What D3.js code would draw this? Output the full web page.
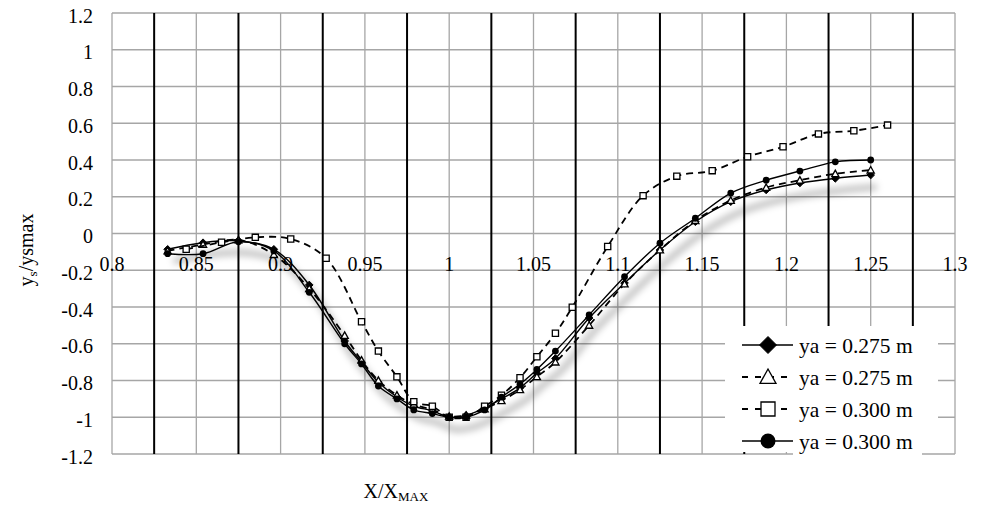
<!DOCTYPE html>
<html>
<head>
<meta charset="utf-8">
<script src="https://cdn.jsdelivr.net/npm/d3@7"></script>
<style>
  html, body { margin: 0; padding: 0; background: #fff; }
  svg { display: block; font-family: "Liberation Serif", "Times New Roman", serif; }
</style>
</head>
<body>
<svg id="chart" width="983" height="507"></svg>
<script>
// ---- data ----
const xTicks = [0.8, 0.85, 0.9, 0.95, 1, 1.05, 1.1, 1.15, 1.2, 1.25, 1.3];
const xTickLabels = ["0.8", "0.85", "0.9", "0.95", "1", "1.05", "1.1", "1.15", "1.2", "1.25", "1.3"];
const xMinorLines = [0.825, 0.875, 0.925, 0.975, 1.025, 1.075, 1.125, 1.175, 1.225, 1.275];
const yTicks = [1.2, 1, 0.8, 0.6, 0.4, 0.2, 0, -0.2, -0.4, -0.6, -0.8, -1, -1.2];
const yTickLabels = ["1.2", "1", "0.8", "0.6", "0.4", "0.2", "0", "-0.2", "-0.4", "-0.6", "-0.8", "-1", "-1.2"];

const seriesNames = ["ya = 0.275 m", "ya = 0.275 m", "ya = 0.300 m", "ya = 0.300 m"];

const xA = [0.833, 0.854, 0.875, 0.896, 0.917, 0.938, 0.948, 0.958, 0.969, 0.979, 0.990, 1.000, 1.010, 1.021,
            1.031, 1.042, 1.052, 1.063, 1.083, 1.104, 1.125, 1.146, 1.167, 1.188, 1.208, 1.229, 1.250];
const xSq = [0.844, 0.865, 0.885, 0.906, 0.927, 0.948, 0.958, 0.969, 0.979, 0.990, 1.000, 1.010, 1.021, 1.031,
             1.042, 1.052, 1.063, 1.073, 1.094, 1.115, 1.135, 1.156, 1.177, 1.198, 1.219, 1.240, 1.260];

const yDiamond = [-0.086, -0.05, -0.04, -0.086, -0.28, -0.585, -0.70, -0.81, -0.89, -0.94, -0.965, -1.0, -0.99, -0.95,
                  -0.90, -0.84, -0.76, -0.68, -0.46, -0.27, -0.09, 0.064, 0.173, 0.237, 0.275, 0.30, 0.318];
const yTriangle = [-0.095, -0.06, -0.035, -0.115, -0.30, -0.555, -0.69, -0.80, -0.88, -0.93, -0.96, -0.995, -0.99, -0.955,
                   -0.91, -0.85, -0.78, -0.70, -0.50, -0.275, -0.09, 0.07, 0.18, 0.25, 0.29, 0.325, 0.345];
const ySquare = [-0.086, -0.048, -0.021, -0.03, -0.135, -0.48, -0.64, -0.78, -0.915, -0.94, -1.0, -1.0, -0.94, -0.88,
                 -0.785, -0.671, -0.543, -0.401, -0.071, 0.206, 0.312, 0.342, 0.418, 0.472, 0.542, 0.559, 0.590];
const yCircle = [-0.11, -0.11, -0.045, -0.095, -0.32, -0.60, -0.71, -0.83, -0.90, -0.96, -0.98, -1.0, -1.0, -0.96,
                 -0.89, -0.82, -0.74, -0.64, -0.443, -0.235, -0.053, 0.083, 0.22, 0.29, 0.34, 0.39, 0.40];

// ---- layout ----
const svg = d3.select("#chart");
const x = d3.scaleLinear().domain([0.8, 1.3]).range([112, 955]);
const y = d3.scaleLinear().domain([-1.2, 1.2]).range([454, 13]);

const defs = svg.append("defs");
const f = defs.append("filter").attr("id", "shadow").attr("x", "-10%").attr("y", "-10%").attr("width", "120%").attr("height", "130%");
f.append("feGaussianBlur").attr("stdDeviation", 3.5);

// grid
const grid = svg.append("g");
grid.selectAll("line.hy").data(yTicks).join("line")
  .attr("x1", x(0.8)).attr("x2", x(1.3))
  .attr("y1", d => y(d)).attr("y2", d => y(d))
  .attr("stroke", "#a6a6a6").attr("stroke-width", 1.3);
grid.selectAll("line.vx").data(xTicks).join("line")
  .attr("x1", d => x(d)).attr("x2", d => x(d))
  .attr("y1", y(1.2)).attr("y2", y(-1.2))
  .attr("stroke", "#a6a6a6").attr("stroke-width", 1.3);
grid.selectAll("line.vm").data(xMinorLines).join("line")
  .attr("x1", d => x(d)).attr("x2", d => x(d))
  .attr("y1", y(1.2)).attr("y2", y(-1.2))
  .attr("stroke", "#000").attr("stroke-width", 2);

// y tick labels
svg.append("g").selectAll("text").data(yTicks).join("text")
  .attr("x", 93).attr("y", d => y(d) + 9.5)
  .attr("text-anchor", "end").attr("font-size", 20).attr("fill", "#000")
  .text((d, i) => yTickLabels[i]);

// x tick labels (axis crosses at 0)
svg.append("g").selectAll("text").data(xTicks).join("text")
  .attr("x", d => x(d)).attr("y", y(0) + 37.5)
  .attr("text-anchor", "middle").attr("font-size", 20).attr("fill", "#000")
  .text((d, i) => xTickLabels[i]);

// axis titles
const yt = svg.append("text")
  .attr("transform", "translate(33,250) rotate(-90)")
  .attr("text-anchor", "middle").attr("font-size", 20).attr("fill", "#000");
yt.append("tspan").text("y");
yt.append("tspan").attr("font-size", 13).attr("dy", 4).text("s");
yt.append("tspan").attr("dy", -4).text("/ysmax");

const xt = svg.append("text")
  .attr("x", 396).attr("y", 498)
  .attr("text-anchor", "middle").attr("font-size", 20).attr("fill", "#000");
xt.append("tspan").text("X/X");
xt.append("tspan").attr("font-size", 13).attr("dy", 3).text("MAX");

// series
const series = [
  { name: seriesNames[0], xs: xA, ys: yDiamond, dash: null, marker: "diamond" },
  { name: seriesNames[1], xs: xA, ys: yTriangle, dash: "7,5", marker: "triangle" },
  { name: seriesNames[2], xs: xSq, ys: ySquare, dash: "7,5", marker: "square" },
  { name: seriesNames[3], xs: xA, ys: yCircle, dash: null, marker: "circle" }
];

const line = d3.line().x(d => x(d[0])).y(d => y(d[1])).curve(d3.curveCatmullRom.alpha(0.5));

// soft shadow under the first series
svg.append("path")
  .datum(d3.zip(xA, yDiamond))
  .attr("d", line)
  .attr("transform", "translate(6,12)")
  .attr("fill", "none").attr("stroke", "#000").attr("stroke-opacity", 0.26)
  .attr("stroke-width", 6).attr("filter", "url(#shadow)");

function markerPath(type, s) {
  if (type === "diamond") return `M0,${-s}L${s},0L0,${s}L${-s},0Z`;
  if (type === "triangle") return `M0,${-s}L${s},${s * 0.8}L${-s},${s * 0.8}Z`;
  if (type === "square") return `M${-s},${-s}H${s}V${s}H${-s}Z`;
  return null;
}
function drawMarker(g, type, cx, cy, size) {
  if (type === "circle") {
    g.append("circle").attr("cx", cx).attr("cy", cy).attr("r", size).attr("fill", "#000");
  } else {
    const filled = type === "diamond";
    g.append("path").attr("d", markerPath(type, size))
      .attr("transform", `translate(${cx},${cy})`)
      .attr("fill", filled ? "#000" : "#fff")
      .attr("stroke", "#000").attr("stroke-width", filled ? 1 : 1.3);
  }
}

const sizes = { diamond: 3.8, triangle: 3.6, square: 3.1, circle: 3.4 };

series.forEach(s => {
  const data = d3.zip(s.xs, s.ys);
  const g = svg.append("g");
  g.append("path").datum(data).attr("d", line)
    .attr("fill", "none").attr("stroke", "#000").attr("stroke-width", s.dash ? 1.8 : 1.4)
    .attr("stroke-dasharray", s.dash);
  data.forEach(d => drawMarker(g, s.marker, x(d[0]), y(d[1]), sizes[s.marker]));
});

// legend
const lg = svg.append("g");
lg.append("rect").attr("x", 725).attr("y", 326).attr("width", 213).attr("height", 126).attr("fill", "#fff");
lg.append("rect").attr("x", 793).attr("y", 440).attr("width", 129).attr("height", 17).attr("fill", "#fff");
const legendRows = [345, 377, 409, 441];
const legendSizes = { diamond: 8.5, triangle: 8, square: 7, circle: 7.5 };
series.forEach((s, i) => {
  const cy = legendRows[i];
  lg.append("line").attr("x1", 742).attr("x2", 793).attr("y1", cy).attr("y2", cy)
    .attr("stroke", "#000").attr("stroke-width", s.dash ? 1.8 : 1.4)
    .attr("stroke-dasharray", s.dash ? "6,7" : null);
  drawMarker(lg, s.marker, 768, cy, legendSizes[s.marker]);
  lg.append("text").attr("x", 799).attr("y", cy + 7.5)
    .attr("font-size", 21.5).attr("fill", "#000").text(s.name);
});
</script>
</body>
</html>
